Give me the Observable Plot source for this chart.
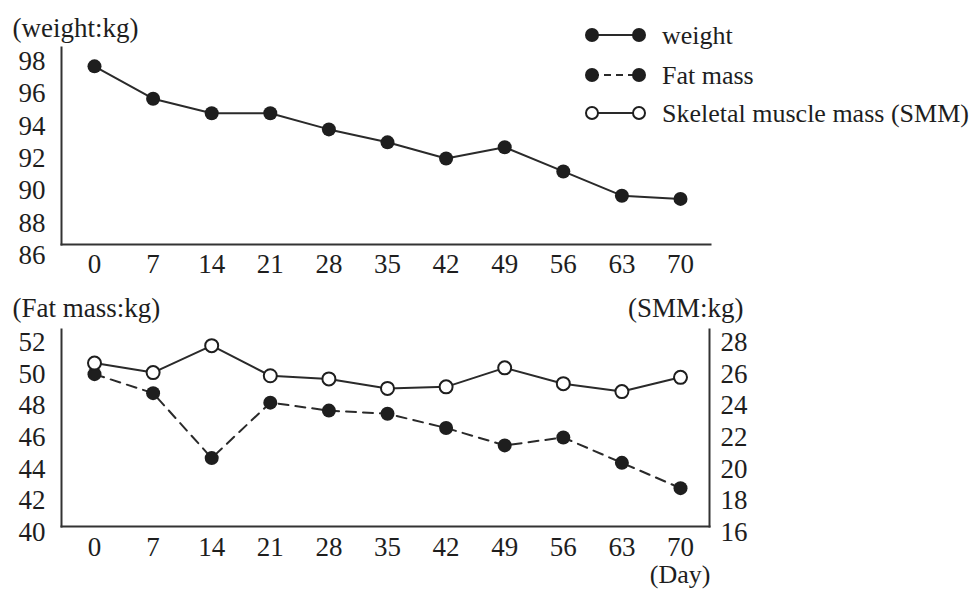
<!DOCTYPE html>
<html><head><meta charset="utf-8">
<script src="https://cdn.jsdelivr.net/npm/d3@7"></script>
<script src="https://cdn.jsdelivr.net/npm/@observablehq/plot@0.6"></script>
<style>
body{margin:0;background:#fff;}
#wrap{position:relative;width:971px;height:590px;overflow:hidden;background:#fff;}
#top,#bottom{position:absolute;left:0;}
#top{top:0}
#bottom{top:290px}
#legend{position:absolute;left:0;top:0;}
</style></head>
<body><div id="wrap"><div id="top"></div><div id="bottom"></div><svg id="legend" width="971" height="140"></svg></div>
<script>
// ---- data ----
const days = [0, 7, 14, 21, 28, 35, 42, 49, 56, 63, 70];
const weight = [97.7, 95.7, 94.8, 94.8, 93.8, 93.0, 92.0, 92.7, 91.2, 89.7, 89.5];
const fatMass = [50.0, 48.8, 44.7, 48.2, 47.7, 47.5, 46.6, 45.5, 46.0, 44.4, 42.8];
const smm = [26.7, 26.1, 27.8, 25.9, 25.7, 25.1, 25.2, 26.4, 25.4, 24.9, 25.8];
const weightTicks = [86, 88, 90, 92, 94, 96, 98];
const fatTicks = [40, 42, 44, 46, 48, 50, 52];
const smmTicks = [16, 18, 20, 22, 24, 26, 28];
const legendItems = ["weight", "Fat mass", "Skeletal muscle mass (SMM)"];

const font = "'Liberation Serif','Times New Roman',serif";
const ink = "#1e1e1e";
const style = {fontFamily: font, fontSize: "27px", color: ink, background: "transparent", overflow: "visible"};

const weightData = days.map((day, i) => ({day, value: weight[i]}));
// SMM shares the fat-mass vertical scale, offset so the right axis (16–28) lines up with the left (40–52)
const offset = fatTicks[0] - smmTicks[0];
const fatData = days.map((day, i) => ({day, value: fatMass[i]}));
const smmData = days.map((day, i) => ({day, value: smm[i] + offset}));

const topChart = Plot.plot({
  width: 971, height: 290,
  marginLeft: 61, marginRight: 261, marginTop: 47, marginBottom: 46,
  x: {domain: [0, 70], insetLeft: 33, insetRight: 30},
  y: {domain: [86, 98], insetTop: 14, insetBottom: -11},
  style,
  marks: [
    Plot.frame({anchor: "left", stroke: "#333", strokeWidth: 2}),
    Plot.frame({anchor: "bottom", stroke: "#333", strokeWidth: 2}),
    Plot.axisY(weightTicks, {tickSize: 0, tickPadding: 16, label: null}),
    Plot.axisX(days, {tickSize: 0, tickPadding: 9, label: null}),
    Plot.line(weightData, {x: "day", y: "value", stroke: "#2a2a2a", strokeWidth: 2}),
    Plot.dot(weightData, {x: "day", y: "value", r: 7, fill: ink, stroke: "none"}),
    Plot.text(["(weight:kg)"], {frameAnchor: "top-left", lineAnchor: "middle", dx: -49, dy: -19, textAnchor: "start", fill: ink})
  ]
});
document.getElementById("top").append(topChart);

const bottomChart = Plot.plot({
  width: 971, height: 300,
  marginLeft: 61, marginRight: 262, marginTop: 39, marginBottom: 64,
  x: {domain: [0, 70], insetLeft: 33, insetRight: 29},
  y: {domain: [40, 52], insetTop: 13, insetBottom: -6},
  style,
  marks: [
    Plot.frame({anchor: "left", stroke: "#333", strokeWidth: 2}),
    Plot.frame({anchor: "bottom", stroke: "#333", strokeWidth: 2}),
    Plot.frame({anchor: "right", stroke: "#333", strokeWidth: 2}),
    Plot.axisY(fatTicks, {anchor: "left", tickSize: 0, tickPadding: 16, label: null}),
    Plot.axisY(smmTicks.map(d => d + offset), {anchor: "right", tickSize: 0, tickPadding: 11, label: null, tickFormat: d => d - offset}),
    Plot.axisX(days, {tickSize: 0, tickPadding: 10, label: null}),
    Plot.line(fatData, {x: "day", y: "value", stroke: "#2a2a2a", strokeWidth: 2, strokeDasharray: "10,7"}),
    Plot.line(smmData, {x: "day", y: "value", stroke: "#2a2a2a", strokeWidth: 2}),
    Plot.dot(fatData, {x: "day", y: "value", r: 7, fill: ink, stroke: "none"}),
    Plot.dot(smmData, {x: "day", y: "value", r: 6.5, fill: "white", stroke: ink, strokeWidth: 2}),
    Plot.text(["(Fat mass:kg)"], {frameAnchor: "top-left", lineAnchor: "middle", dx: -49, dy: -21, textAnchor: "start", fill: ink}),
    Plot.text(["(SMM:kg)"], {frameAnchor: "top-right", lineAnchor: "middle", dx: 34, dy: -21, textAnchor: "end", fill: ink}),
    Plot.text(["(Day)"], {frameAnchor: "bottom-right", lineAnchor: "middle", dx: 1, dy: 48.5, textAnchor: "end", fill: ink, fontSize: 26})
  ]
});
document.getElementById("bottom").append(bottomChart);

// ---- legend ----
const lg = d3.select("#legend");
const rowY = [35, 75, 113];
legendItems.forEach((label, i) => {
  const g = lg.append("g").attr("transform", `translate(0,${rowY[i]})`);
  g.append("line").attr("x1", 592).attr("x2", 639).attr("y1", 0).attr("y2", 0)
    .attr("stroke", "#2a2a2a").attr("stroke-width", 2)
    .attr("stroke-dasharray", i === 1 ? "7,5" : null);
  [592, 639].forEach(cx => g.append("circle").attr("cx", cx).attr("cy", 0)
    .attr("r", i === 2 ? 6 : 7)
    .attr("fill", i === 2 ? "white" : ink)
    .attr("stroke", i === 2 ? ink : "none").attr("stroke-width", 2));
  g.append("text").attr("x", 662).attr("y", 9).text(label)
    .attr("font-family", font).attr("font-size", 26).attr("fill", ink);
});
</script></body></html>
